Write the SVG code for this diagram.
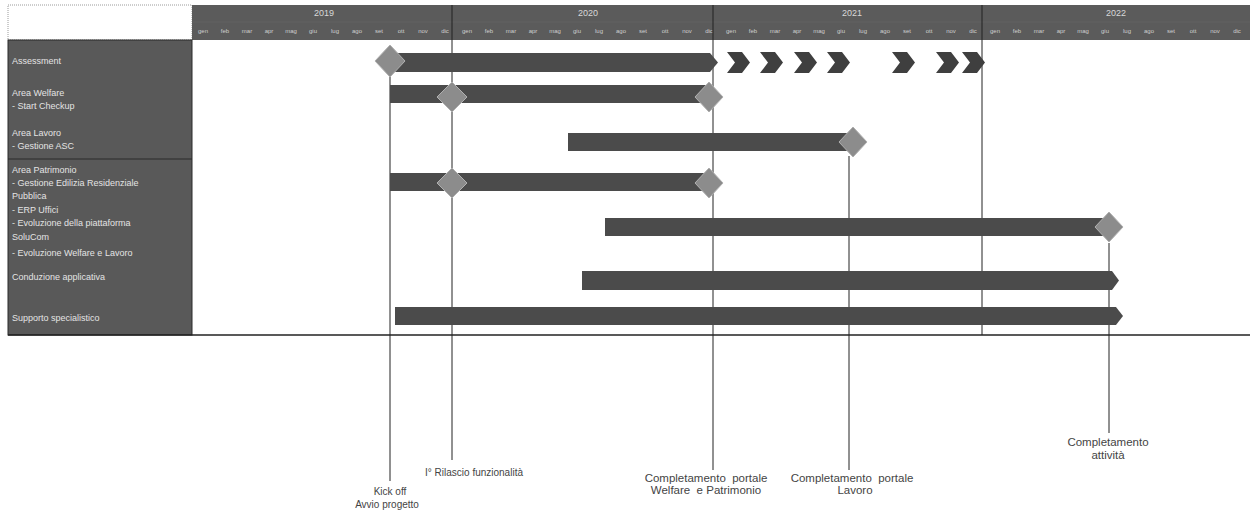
<svg xmlns="http://www.w3.org/2000/svg" width="1250" height="516" viewBox="0 0 1250 516">
<style>
.hdr{fill:#5b5b5b}
.yr{font-family:"Liberation Sans",Arial,sans-serif;font-size:9px;fill:#d8d8d8;text-anchor:middle}
.mo{font-family:"Liberation Sans",Arial,sans-serif;font-size:6px;fill:#cfcfcf;text-anchor:middle}
.lbl{font-family:"Liberation Sans",Arial,sans-serif;font-size:9px;fill:#e4e4e4}
.bar{fill:#4b4b4b}
.chev{fill:#3f3f3f}
.ms{fill:#8c8c8c;stroke:#b0b0b0;stroke-width:1}
.vl{stroke:#222;stroke-width:1;fill:none}
.cap{font-family:"Liberation Sans",Arial,sans-serif;font-size:10px;fill:#444;text-anchor:middle}
.cap2{font-family:"Liberation Sans",Arial,sans-serif;font-size:11.5px;fill:#444;text-anchor:middle}
</style>
<rect width="1250" height="516" fill="#ffffff"/>

<g id="header">
<rect x="8" y="5" width="184" height="35" fill="#ffffff" stroke="#9a9a9a" stroke-width="1" stroke-dasharray="1 1"/>
<rect class="hdr" x="192" y="5" width="1058" height="35"/>
<line x1="192" y1="22" x2="1250" y2="22" stroke="#6a6a6a" stroke-width="0.6"/>
<text class="yr" x="324" y="16">2019</text>
<text class="yr" x="588" y="16">2020</text>
<text class="yr" x="852" y="16">2021</text>
<text class="yr" x="1116" y="16">2022</text>
<g id="months">
<text class="mo" x="203" y="33">gen</text><text class="mo" x="225" y="33">feb</text><text class="mo" x="247" y="33">mar</text><text class="mo" x="269" y="33">apr</text><text class="mo" x="291" y="33">mag</text><text class="mo" x="313" y="33">giu</text><text class="mo" x="335" y="33">lug</text><text class="mo" x="357" y="33">ago</text><text class="mo" x="379" y="33">set</text><text class="mo" x="401" y="33">ott</text><text class="mo" x="423" y="33">nov</text><text class="mo" x="445" y="33">dic</text>
<text class="mo" x="467" y="33">gen</text><text class="mo" x="489" y="33">feb</text><text class="mo" x="511" y="33">mar</text><text class="mo" x="533" y="33">apr</text><text class="mo" x="555" y="33">mag</text><text class="mo" x="577" y="33">giu</text><text class="mo" x="599" y="33">lug</text><text class="mo" x="621" y="33">ago</text><text class="mo" x="643" y="33">set</text><text class="mo" x="665" y="33">ott</text><text class="mo" x="687" y="33">nov</text><text class="mo" x="709" y="33">dic</text>
<text class="mo" x="731" y="33">gen</text><text class="mo" x="753" y="33">feb</text><text class="mo" x="775" y="33">mar</text><text class="mo" x="797" y="33">apr</text><text class="mo" x="819" y="33">mag</text><text class="mo" x="841" y="33">giu</text><text class="mo" x="863" y="33">lug</text><text class="mo" x="885" y="33">ago</text><text class="mo" x="907" y="33">set</text><text class="mo" x="929" y="33">ott</text><text class="mo" x="951" y="33">nov</text><text class="mo" x="973" y="33">dic</text>
<text class="mo" x="995" y="33">gen</text><text class="mo" x="1017" y="33">feb</text><text class="mo" x="1039" y="33">mar</text><text class="mo" x="1061" y="33">apr</text><text class="mo" x="1083" y="33">mag</text><text class="mo" x="1105" y="33">giu</text><text class="mo" x="1127" y="33">lug</text><text class="mo" x="1149" y="33">ago</text><text class="mo" x="1171" y="33">set</text><text class="mo" x="1193" y="33">ott</text><text class="mo" x="1215" y="33">nov</text><text class="mo" x="1237" y="33">dic</text>
</g>
</g>

<g id="task-panel">
<rect x="8" y="40" width="184" height="295" fill="#595959" stroke="#2a2a2a" stroke-width="1"/>
<line x1="8" y1="159" x2="192" y2="159" stroke="#2a2a2a" stroke-width="1.2"/>
<text class="lbl" x="12" y="64">Assessment</text>
<text class="lbl" x="12" y="96">Area Welfare</text>
<text class="lbl" x="12" y="109">- Start Checkup</text>
<text class="lbl" x="12" y="136">Area Lavoro</text>
<text class="lbl" x="12" y="149">- Gestione ASC</text>
<text class="lbl" x="12" y="173">Area Patrimonio</text>
<text class="lbl" x="12" y="186">- Gestione Edilizia Residenziale</text>
<text class="lbl" x="12" y="199">Pubblica</text>
<text class="lbl" x="12" y="213">- ERP Uffici</text>
<text class="lbl" x="12" y="226">- Evoluzione della piattaforma</text>
<text class="lbl" x="12" y="240">SoluCom</text>
<text class="lbl" x="12" y="256">- Evoluzione Welfare e Lavoro</text>
<text class="lbl" x="12" y="280">Conduzione applicativa</text>
<text class="lbl" x="12" y="321">Supporto specialistico</text>
</g>

<g id="chart-frame">
<line x1="8" y1="335" x2="1250" y2="335" stroke="#222" stroke-width="1.5"/>
</g>

<g id="connectors">
<line class="vl" x1="390" y1="76" x2="390" y2="481"/>
<line class="vl" x1="452" y1="5" x2="452" y2="460"/>
<line class="vl" x1="713" y1="5" x2="713" y2="470"/>
<line class="vl" x1="849" y1="156" x2="849" y2="470"/>
<line class="vl" x1="982" y1="5" x2="982" y2="335"/>
<line class="vl" x1="1109" y1="243" x2="1109" y2="433"/>
</g>

<g id="task-assessment">
<polygon class="bar" points="395,53 710,53 718,62.5 710,72 395,72"/>
<polygon class="chev" points="727,52 742,52 750,62.5 742,73 727,73 735,62.5"/>
<polygon class="chev" points="760,52 775,52 783,62.5 775,73 760,73 768,62.5"/>
<polygon class="chev" points="794,52 809,52 817,62.5 809,73 794,73 802,62.5"/>
<polygon class="chev" points="827,52 842,52 850,62.5 842,73 827,73 835,62.5"/>
<polygon class="chev" points="892,52 907,52 915,62.5 907,73 892,73 900,62.5"/>
<polygon class="chev" points="936,52 951,52 959,62.5 951,73 936,73 944,62.5"/>
<polygon class="chev" points="962,52 977,52 985,62.5 977,73 962,73 970,62.5"/>
<polygon class="ms" points="390,45 405,61 390,77 375,61"/>
</g>

<g id="task-welfare">
<rect class="bar" x="390" y="85" width="320" height="18"/>
<polygon class="ms" points="452,82 467,97 452,112 437,97"/>
<polygon class="ms" points="709,82 723,97 709,112 695,97"/>
</g>

<g id="task-lavoro">
<rect class="bar" x="568" y="133" width="282" height="18"/>
<polygon class="ms" points="853,127 867,142 853,157 839,142"/>
</g>

<g id="task-patrimonio">
<rect class="bar" x="390" y="173" width="320" height="18"/>
<polygon class="ms" points="452,168 467,183 452,198 437,183"/>
<polygon class="ms" points="709,168 723,183 709,198 695,183"/>
</g>

<g id="task-evoluzione">
<rect class="bar" x="605" y="218" width="500" height="18"/>
<polygon class="ms" points="1109,212 1123,227 1109,242 1095,227"/>
</g>

<g id="task-conduzione">
<polygon class="bar" points="582,271 1112,271 1119,280.5 1112,290 582,290"/>
</g>

<g id="task-supporto">
<polygon class="bar" points="395,307 1116,307 1123,316 1116,325 395,325"/>
</g>

<g id="milestone-labels">
<text class="cap" x="390" y="495">Kick off</text>
<text class="cap" x="387" y="508">Avvio progetto</text>
<text class="cap" x="474" y="476">I° Rilascio funzionalità</text>
<text class="cap2" x="706" y="482" xml:space="preserve">Completamento  portale</text>
<text class="cap2" x="706" y="494" xml:space="preserve">Welfare  e Patrimonio</text>
<text class="cap2" x="852" y="482" xml:space="preserve">Completamento  portale</text>
<text class="cap2" x="855" y="494">Lavoro</text>
<text class="cap2" x="1108" y="446">Completamento</text>
<text class="cap2" x="1108" y="459">attività</text>
</g>
</svg>
